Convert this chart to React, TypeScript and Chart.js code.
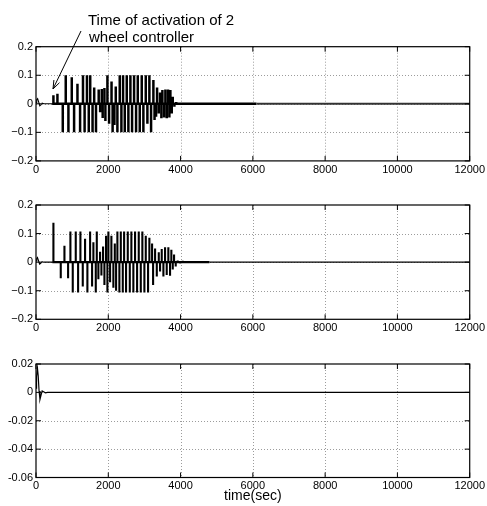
import React, { useEffect, useRef } from "react";
import { Chart, registerables } from "chart.js";

Chart.register(...registerables);

const FONT = "'Liberation Sans', Arial, Helvetica, sans-serif";

// ---- axes / ticks ----
const X_TICKS = [0, 2000, 4000, 6000, 8000, 10000, 12000];
const X_TICK_LABELS = ["0", "2000", "4000", "6000", "8000", "10000", "12000"];
const Y12_TICKS = [-0.2, -0.1, 0, 0.1, 0.2];
const Y12_TICK_LABELS = ["\u22120.2", "\u22120.1", "0", "0.1", "0.2"];
const Y3_TICKS = [-0.06, -0.04, -0.02, 0, 0.02];
const Y3_TICK_LABELS = ["-0.06", "-0.04", "-0.02", "0", "0.02"];
const X_TITLE = "time(sec)";
const ANNOTATION = ["Time of activation of 2", "wheel controller"];

// ---- panel 1 ----
const P1_TRANS_T = [0, 20, 45, 75, 105, 135, 170, 220, 300, 482];
const P1_TRANS_V = [0.004, 0.014, 0.018, 0.006, -0.007, -0.004, 0.002, 0, 0, 0];
const P1_SPIKE_T = [482, 593, 741, 823, 897, 990, 1054, 1147, 1220, 1300, 1345, 1410, 1460, 1500, 1565, 1610, 1660, 1735, 1775, 1820, 1845, 1893, 1920, 1976, 2022, 2090, 2120, 2169, 2207, 2252, 2317, 2363, 2409, 2456, 2511, 2556, 2612, 2658, 2714, 2769, 2816, 2871, 2926, 2971, 3037, 3082, 3137, 3184, 3248, 3280, 3322, 3350, 3397, 3433, 3469, 3497, 3544, 3580, 3617, 3654, 3690, 3718, 3756, 3784, 3829, 3880, 3950, 4040, 4150, 4300, 4500, 4750, 5050, 5400, 5800];
const P1_SPIKE_V = [0.03, 0.035, -0.1, 0.1, -0.1, 0.093, -0.1, 0.07, -0.1, 0.1, -0.1, 0.1, -0.1, 0.1, -0.1, 0.057, -0.1, 0.05, -0.03, 0.052, -0.05, 0.055, -0.06, 0.1, -0.07, 0.078, -0.1, -0.074, 0.061, -0.1, 0.1, -0.1, 0.1, -0.1, 0.1, -0.1, 0.1, -0.1, 0.1, -0.1, 0.1, -0.1, 0.1, -0.1, 0.1, -0.07, 0.1, -0.1, 0.083, -0.057, -0.045, 0.057, -0.034, 0.04, -0.051, 0.048, -0.048, 0.05, -0.051, 0.05, -0.048, 0.048, -0.034, 0.025, -0.01, 0.006, -0.004, 0.004, -0.003, 0.003, -0.002, 0.002, -0.002, 0.002, -0.001];
const P1_SPIKE_END = 6100;
const P1_TAIL_T = [6100, 12000];
const P1_TAIL_V = [0, 0];

// ---- panel 2 ----
const P2_TRANS_T = [0, 20, 40, 70, 100, 130, 165, 210, 300, 482];
const P2_TRANS_V = [0.004, 0.012, 0.016, 0.005, -0.007, -0.004, 0.002, 0, 0, 0];
const P2_SPIKE_T = [482, 685, 787, 888, 952, 1017, 1100, 1165, 1229, 1294, 1358, 1422, 1497, 1552, 1588, 1654, 1682, 1726, 1773, 1810, 1856, 1893, 1939, 1976, 2003, 2050, 2086, 2141, 2180, 2216, 2252, 2307, 2346, 2401, 2438, 2492, 2539, 2595, 2639, 2694, 2741, 2797, 2843, 2899, 2943, 2999, 3037, 3101, 3137, 3212, 3240, 3295, 3342, 3397, 3433, 3479, 3525, 3571, 3617, 3662, 3709, 3745, 3784, 3820, 3866, 3920, 3990, 4060, 4130, 4200, 4280, 4360, 4450, 4540, 4630, 4720];
const P2_SPIKE_V = [0.138, -0.056, 0.057, -0.056, 0.107, -0.106, 0.107, -0.106, 0.107, -0.085, 0.082, -0.106, 0.107, -0.085, 0.07, -0.106, 0.107, -0.06, 0.036, -0.047, 0.055, -0.08, 0.092, -0.106, 0.107, -0.07, 0.092, -0.09, 0.065, -0.1, 0.107, -0.106, 0.107, -0.106, 0.107, -0.106, 0.107, -0.106, 0.107, -0.106, 0.107, -0.106, 0.107, -0.106, 0.107, -0.106, 0.092, -0.106, 0.085, 0.065, -0.08, 0.048, -0.05, 0.035, -0.033, 0.046, -0.05, 0.052, -0.045, 0.052, -0.048, 0.043, -0.026, 0.027, -0.015, 0.006, -0.005, 0.005, -0.004, 0.004, -0.003, 0.003, -0.003, 0.002, -0.002, 0.002];
const P2_SPIKE_END = 4800;
const P2_TAIL_T = [4800, 12000];
const P2_TAIL_V = [0, 0];

// ---- panel 3 ----
const P3_T = [0, 15, 40, 60, 85, 110, 140, 170, 210, 260, 320, 12000];
const P3_V = [0.003, 0.011, 0.017, 0.012, 0.001, -0.005, -0.002, 0.001, 0.0005, -0.0003, 0, 0];

const curve = (ts: number[], vs: number[]) => ts.map((t, i) => ({ x: t, y: vs[i] }));
const spikes = (ts: number[], vs: number[], tEnd: number) => {
  const pts: { x: number; y: number }[] = [{ x: ts[0], y: 0 }];
  ts.forEach((t, i) => {
    pts.push({ x: t, y: 0 }, { x: t, y: vs[i] }, { x: t, y: 0 });
  });
  pts.push({ x: tEnd, y: 0 });
  return pts;
};

const lineDs = (data: any[], width: number, color = "#000") => ({
  data,
  showLine: true,
  borderColor: color,
  borderWidth: width,
  pointRadius: 0,
  fill: false,
  tension: 0,
  borderJoinStyle: "miter",
  borderCapStyle: "butt",
});

function axesPlugin(xTicks: number[], yTicks: number[], arrow: boolean) {
  return {
    id: "axesBox",
    beforeDatasetsDraw(chart: any) {
      const { ctx, chartArea: a, scales } = chart;
      ctx.save();
      ctx.strokeStyle = "#9c9c9c";
      ctx.lineWidth = 1;
      ctx.setLineDash([1, 2]);
      ctx.beginPath();
      for (const v of xTicks) {
        const p = Math.round(scales.x.getPixelForValue(v)) + 0.5;
        if (p > a.left + 2 && p < a.right - 2) {
          ctx.moveTo(p, a.top);
          ctx.lineTo(p, a.bottom);
        }
      }
      for (const v of yTicks) {
        const p = Math.round(scales.y.getPixelForValue(v)) + 0.5;
        if (p > a.top + 2 && p < a.bottom - 2) {
          ctx.moveTo(a.left, p);
          ctx.lineTo(a.right, p);
        }
      }
      ctx.stroke();
      ctx.restore();
    },
    afterDatasetsDraw(chart: any) {
      const { ctx, chartArea: a, scales } = chart;
      ctx.save();
      ctx.strokeStyle = "#000";
      ctx.lineWidth = 1.2;
      ctx.setLineDash([]);
      ctx.strokeRect(a.left, a.top, a.right - a.left, a.bottom - a.top);
      ctx.lineWidth = 1;
      ctx.beginPath();
      const L = 5;
      for (const v of xTicks) {
        const p = scales.x.getPixelForValue(v);
        ctx.moveTo(p, a.bottom);
        ctx.lineTo(p, a.bottom - L);
        ctx.moveTo(p, a.top);
        ctx.lineTo(p, a.top + L);
      }
      for (const v of yTicks) {
        const p = scales.y.getPixelForValue(v);
        ctx.moveTo(a.left, p);
        ctx.lineTo(a.left + L, p);
        ctx.moveTo(a.right, p);
        ctx.lineTo(a.right - L, p);
      }
      ctx.stroke();
      if (arrow) {
        const x0 = 81, y0 = 31, x1 = 53, y1 = 89;
        const ang = Math.atan2(y1 - y0, x1 - x0);
        ctx.lineWidth = 1;
        ctx.beginPath();
        ctx.moveTo(x0, y0);
        ctx.lineTo(x1, y1);
        const hl = 9;
        ctx.moveTo(x1, y1);
        ctx.lineTo(x1 - hl * Math.cos(ang - 0.35), y1 - hl * Math.sin(ang - 0.35));
        ctx.moveTo(x1, y1);
        ctx.lineTo(x1 - hl * Math.cos(ang + 0.35), y1 - hl * Math.sin(ang + 0.35));
        ctx.stroke();
      }
      ctx.restore();
    },
  };
}

function makeConfig(p: {
  datasets: any[];
  yMin: number;
  yMax: number;
  yTicks: number[];
  yLabels: string[];
  padTop: number;
  xH: number;
  title?: string;
  arrow?: boolean;
}) {
  return {
    type: "scatter",
    data: { datasets: p.datasets },
    options: {
      animation: false,
      responsive: false,
      events: [],
      layout: { padding: { left: 0, right: 17, top: p.padTop, bottom: 0 } },
      plugins: { legend: { display: false }, tooltip: { enabled: false } },
      scales: {
        x: {
          type: "linear",
          min: 0,
          max: 12000,
          afterBuildTicks: (s: any) => {
            s.ticks = X_TICKS.map((v) => ({ value: v }));
          },
          afterFit: (s: any) => {
            s.height = p.xH;
          },
          grid: { display: false, drawTicks: false },
          border: { display: false },
          ticks: {
            autoSkip: false,
            maxRotation: 0,
            padding: 2,
            color: "#000",
            font: { family: FONT, size: 11 },
            callback: (_v: any, i: number) => X_TICK_LABELS[i],
          },
          title: p.title
            ? {
                display: true,
                text: p.title,
                color: "#000",
                font: { family: FONT, size: 14 },
                padding: { top: 0, bottom: 1 },
              }
            : { display: false },
        },
        y: {
          type: "linear",
          min: p.yMin,
          max: p.yMax,
          afterBuildTicks: (s: any) => {
            s.ticks = p.yTicks.map((v) => ({ value: v }));
          },
          afterFit: (s: any) => {
            s.width = 36;
          },
          grid: { display: false, drawTicks: false },
          border: { display: false },
          ticks: {
            autoSkip: false,
            padding: 3,
            color: "#000",
            font: { family: FONT, size: 11 },
            callback: (_v: any, i: number) => p.yLabels[i],
          },
        },
      },
    },
    plugins: [axesPlugin(X_TICKS, p.yTicks, !!p.arrow)],
  } as any;
}

const PANELS = [
  { top: 0, height: 182 },
  { top: 180, height: 161 },
  { top: 340, height: 166 },
];

export default function App() {
  const r1 = useRef<HTMLCanvasElement>(null);
  const r2 = useRef<HTMLCanvasElement>(null);
  const r3 = useRef<HTMLCanvasElement>(null);

  useEffect(() => {
    const c1 = new Chart(
      r1.current!,
      makeConfig({
        datasets: [
          lineDs(curve(P1_TRANS_T, P1_TRANS_V), 1.1),
          lineDs(curve(P1_TAIL_T, P1_TAIL_V), 2, "#333"),
          lineDs(spikes(P1_SPIKE_T, P1_SPIKE_V, P1_SPIKE_END), 2.5),
        ],
        yMin: -0.2,
        yMax: 0.2,
        yTicks: Y12_TICKS,
        yLabels: Y12_TICK_LABELS,
        padTop: 46.7,
        xH: 21.1,
        arrow: true,
      })
    );
    const c2 = new Chart(
      r2.current!,
      makeConfig({
        datasets: [
          lineDs(curve(P2_TRANS_T, P2_TRANS_V), 1.1),
          lineDs(curve(P2_TAIL_T, P2_TAIL_V), 1.2),
          lineDs(spikes(P2_SPIKE_T, P2_SPIKE_V, P2_SPIKE_END), 2.1),
        ],
        yMin: -0.2,
        yMax: 0.2,
        yTicks: Y12_TICKS,
        yLabels: Y12_TICK_LABELS,
        padTop: 25,
        xH: 21.7,
      })
    );
    const c3 = new Chart(
      r3.current!,
      makeConfig({
        datasets: [lineDs(curve(P3_T, P3_V), 1.2)],
        yMin: -0.06,
        yMax: 0.02,
        yTicks: Y3_TICKS,
        yLabels: Y3_TICK_LABELS,
        padTop: 24,
        xH: 28.5,
        title: X_TITLE,
      })
    );
    return () => {
      c1.destroy();
      c2.destroy();
      c3.destroy();
    };
  }, []);

  const refs = [r1, r2, r3];
  return (
    <div style={{ position: "absolute", left: 0, top: 0, width: 487, height: 506, background: "#fff", overflow: "hidden" }}>
      {PANELS.map((p, i) => (
        <canvas
          key={i}
          ref={refs[i]}
          width={487}
          height={p.height}
          style={{ position: "absolute", left: 0, top: p.top, width: 487, height: p.height }}
        />
      ))}
      <div
        style={{
          position: "absolute",
          left: 88,
          top: 11.3,
          fontFamily: FONT,
          fontSize: 15,
          lineHeight: "17px",
          color: "#000",
          whiteSpace: "nowrap",
        }}
      >
        <div>{ANNOTATION[0]}</div>
        <div style={{ paddingLeft: 1 }}>{ANNOTATION[1]}</div>
      </div>
    </div>
  );
}
